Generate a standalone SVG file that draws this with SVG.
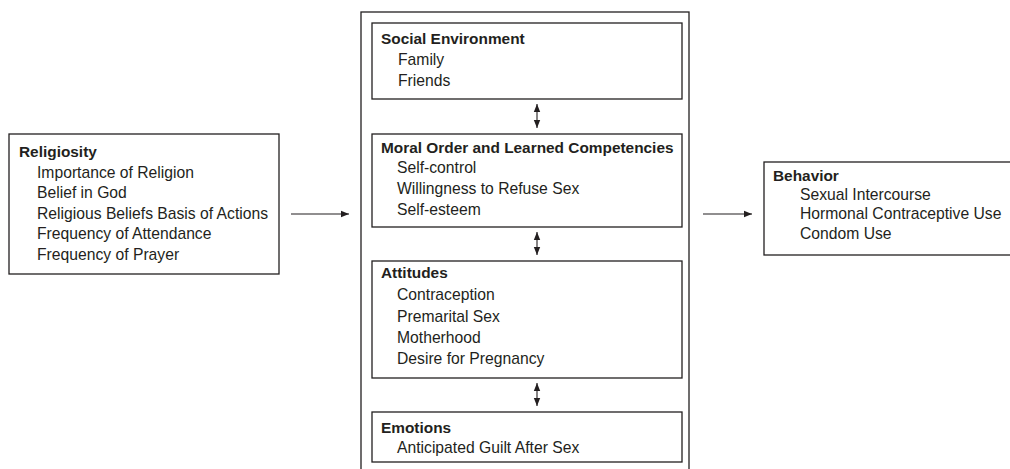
<svg xmlns="http://www.w3.org/2000/svg" width="1010" height="469" viewBox="0 0 1010 469">
<defs>
<style>
.box{fill:#fff;stroke:#231f20;stroke-width:1.3}
.t{font-family:"Liberation Sans",Arial,sans-serif;font-size:15.7px;fill:#231f20}
.b{font-weight:bold;font-size:15.4px}
.c{stroke:#231f20;stroke-width:1.1;fill:none}
</style>
<marker id="ah" viewBox="0 0 10 10" refX="10" refY="5" markerWidth="8" markerHeight="8" markerUnits="userSpaceOnUse" orient="auto-start-reverse">
<path d="M0,1 L10,5 L0,9 z" fill="#231f20"/>
</marker>
</defs>
<rect width="1010" height="469" fill="#fff"/>
<g id="religiosity">
<rect class="box" x="9" y="134" width="270" height="140"/>
<text class="t b" x="19" y="157">Religiosity</text>
<text class="t" x="37" y="177.5">Importance of Religion</text>
<text class="t" x="37" y="198">Belief in God</text>
<text class="t" x="37" y="218.5">Religious Beliefs Basis of Actions</text>
<text class="t" x="37" y="239">Frequency of Attendance</text>
<text class="t" x="37" y="260">Frequency of Prayer</text>
</g>
<g id="outer">
<rect class="box" x="361" y="12" width="328" height="470"/>
</g>
<g id="social">
<rect class="box" x="372" y="23" width="310" height="76"/>
<text class="t b" x="381" y="44">Social Environment</text>
<text class="t" x="398" y="65">Family</text>
<text class="t" x="398" y="86">Friends</text>
</g>
<g id="moral">
<rect class="box" x="372" y="134" width="310" height="93"/>
<text class="t b" x="381" y="153">Moral Order and Learned Competencies</text>
<text class="t" x="397" y="173">Self-control</text>
<text class="t" x="397" y="194">Willingness to Refuse Sex</text>
<text class="t" x="397" y="214.5">Self-esteem</text>
</g>
<g id="attitudes">
<rect class="box" x="372" y="261" width="310" height="117"/>
<text class="t b" x="381" y="278">Attitudes</text>
<text class="t" x="397" y="300">Contraception</text>
<text class="t" x="397" y="322">Premarital Sex</text>
<text class="t" x="397" y="343">Motherhood</text>
<text class="t" x="397" y="364">Desire for Pregnancy</text>
</g>
<g id="emotions">
<rect class="box" x="372" y="412" width="310" height="50"/>
<text class="t b" x="381" y="433">Emotions</text>
<text class="t" x="397" y="453">Anticipated Guilt After Sex</text>
</g>
<g id="behavior">
<rect class="box" x="764" y="162" width="260" height="93"/>
<text class="t b" x="773" y="181">Behavior</text>
<text class="t" x="800" y="200">Sexual Intercourse</text>
<text class="t" x="800" y="219">Hormonal Contraceptive Use</text>
<text class="t" x="800" y="238.5">Condom Use</text>
</g>
<g id="connectors">
<line class="c" x1="291" y1="214" x2="349" y2="214" marker-end="url(#ah)"/>
<line class="c" x1="703" y1="214" x2="752" y2="214" marker-end="url(#ah)"/>
<line class="c" x1="537" y1="104" x2="537" y2="128" marker-start="url(#ah)" marker-end="url(#ah)"/>
<line class="c" x1="537" y1="232" x2="537" y2="255" marker-start="url(#ah)" marker-end="url(#ah)"/>
<line class="c" x1="537" y1="383" x2="537" y2="406" marker-start="url(#ah)" marker-end="url(#ah)"/>
</g>
</svg>
